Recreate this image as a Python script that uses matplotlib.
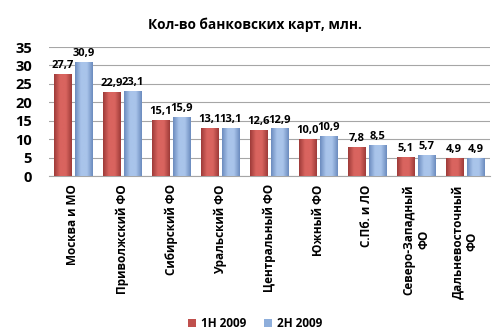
import numpy as np
import matplotlib
matplotlib.use('Agg')
import matplotlib.pyplot as plt
from matplotlib.colors import LinearSegmentedColormap

plt.rcParams['font.family'] = ['Open Sans', 'DejaVu Sans']
plt.rcParams['font.weight'] = 'bold'

# data
regions = ['Москва и МО', 'Приволжский ФО', 'Сибирский ФО', 'Уральский ФО',
           'Центральный ФО', 'Южный ФО', 'С.Пб. и ЛО', 'Северо-Западный\nФО',
           'Дальневосточный\nФО']
h1_2009 = [27.7, 22.9, 15.1, 13.1, 12.6, 10.0, 7.8, 5.1, 4.9]
h2_2009 = [30.9, 23.1, 15.9, 13.1, 12.9, 10.9, 8.5, 5.7, 4.9]
series_names = ['1H 2009', '2H 2009']
yticks = [0, 5, 10, 15, 20, 25, 30, 35]

red = '#C0504D'
blue = '#8EAEDB'

fig = plt.figure(figsize=(5, 3.35), dpi=100)
ax = fig.add_axes([0.097, 0.4746, 0.882, 0.385])

x = np.arange(len(regions))
w = 0.35
off = 0.22

def shade(ax, bars, dark, light):
    # fake the cylinder look of the original bars
    cmap = LinearSegmentedColormap.from_list('c', [dark, light, light, dark])
    grad = np.linspace(0, 1, 64).reshape(1, -1)
    for b in bars:
        x0, y0 = b.get_x(), b.get_y()
        im = ax.imshow(grad, cmap=cmap, extent=[x0, x0 + b.get_width(), y0, y0 + b.get_height()],
                       aspect='auto', zorder=3)
        im.set_clip_path(b)

b1 = ax.bar(x - off, h1_2009, w, color=red, zorder=2, label=series_names[0])
b2 = ax.bar(x + off, h2_2009, w, color=blue, zorder=2, label=series_names[1])
shade(ax, b1, '#9E3B39', '#D9645F')
shade(ax, b2, '#6C8CBF', '#A9C4EA')

for bars, vals in ((b1, h1_2009), (b2, h2_2009)):
    for b, v in zip(bars, vals):
        ax.text(b.get_x() + b.get_width() / 2, v + 0.8, f'{v:.1f}'.replace('.', ','),
                ha='center', va='bottom', fontsize=8, fontweight='bold')

ax.set_xlim(-0.5, len(regions) - 0.5)
ax.set_ylim(0, 35)
ax.set_aspect('auto')
ax.set_yticks(yticks)
ax.set_yticklabels([str(t) for t in yticks], fontsize=10.5, fontweight='bold')
ax.set_xticks(x)
ax.set_xticklabels(regions, rotation=90, fontsize=8.5, fontweight='bold',
                   va='top', ha='center', multialignment='center')
ax.tick_params(axis='x', length=0, pad=6)
ax.tick_params(axis='y', length=0, pad=12)
ax.grid(axis='y', color='#A6A6A6', linewidth=0.8, zorder=0)
for s in ['top', 'right', 'left']:
    ax.spines[s].set_visible(False)
ax.spines['bottom'].set_color('#A6A6A6')

fig.text(0.51, 0.925, 'Кол-во банковских карт, млн.', ha='center', va='center',
         fontsize=9.8, fontweight='bold')

fig.legend(handles=[b1, b2], labels=series_names, loc='center', bbox_to_anchor=(0.51, 0.035),
           ncol=2, frameon=False, fontsize=8.5, handlelength=0.7, handleheight=0.7,
           columnspacing=1.5, handletextpad=0.4)

fig.savefig('out.png', dpi=100)
